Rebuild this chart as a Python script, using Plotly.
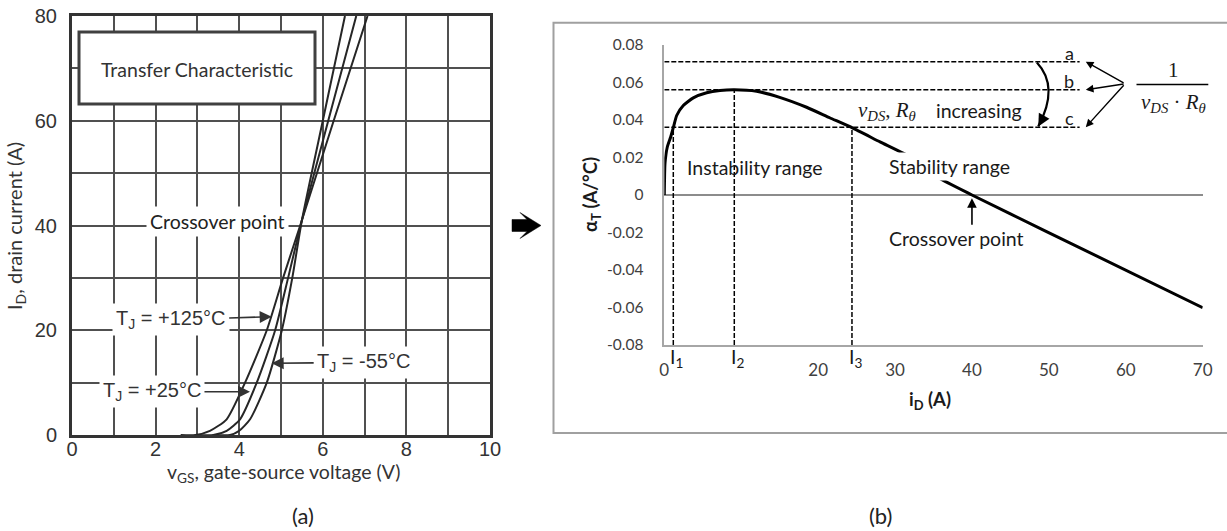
import plotly.graph_objects as go

W, H = 1227, 531

# ---------------- Panel (a): transfer characteristic data ----------------
vgs_125 = [2.6, 2.95, 3.3, 3.7, 4.14, 4.66, 5.05, 5.5, 6.26, 7.07]
id_125 = [0, 0, 0.8, 3, 10, 20, 30, 41, 60, 80]
vgs_25 = [3.0, 3.38, 3.7, 4.02, 4.42, 4.86, 5.17, 5.5, 6.13, 6.8]
id_25 = [0, 0, 0.8, 3, 10, 20, 30, 41, 60, 80]
vgs_m55 = [3.4, 3.78, 4.0, 4.26, 4.66, 5.02, 5.27, 5.5, 6.0, 6.53]
id_m55 = [0, 0, 0.8, 3, 10, 20, 30, 41, 60, 80]

left_xticks = [0, 2, 4, 6, 8, 10]
left_yticks = [0, 20, 40, 60, 80]

# ---------------- Panel (b): alpha_T vs i_D ----------------
iD = [0, 0.09, 0.39, 0.83, 1.17, 1.61, 2.47, 3.77, 5.51, 7.24, 9.1, 12.0, 15.0,
      18.5, 21.5, 24.4, 28.05, 32.2, 35.6, 40.0, 49.7, 70]
alphaT = [0, 0.0168, 0.0256, 0.0309, 0.0359, 0.0424, 0.0477, 0.0518, 0.0545, 0.0557,
          0.0561, 0.0553, 0.0521, 0.0468, 0.0412, 0.0359, 0.0283, 0.0198, 0.0093, 0.0,
          -0.0195, -0.0601]

level_names = ["a", "b", "c"]
level_vals = [0.0711, 0.0561, 0.0362]
level_end = 54.0
I_names = ["I<sub>1</sub>", "I<sub>2</sub>", "I<sub>3</sub>"]
I_vals = [1.17, 9.1, 24.4]
I_tops = [0.0362, 0.0561, 0.0362]

right_xticks = [0, 20, 30, 40, 50, 60, 70]
right_yticks = [0.08, 0.06, 0.04, 0.02, 0, -0.02, -0.04, -0.06, -0.08]
right_yticktext = ["0.08", "0.06", "0.04", "0.02", "0", "-0.02", "-0.04", "-0.06", "-0.08"]


def px(x):
    return x / W


def py(y):
    return 1 - y / H


SANS = "Lato"
ARIAL = "Liberation Sans"
SERIF = "Liberation Serif"
GRID = "#505050"
DARK = "#333333"
TXT = "#1a1a1a"
FS = 19.5

fig = go.Figure()

curve_line = dict(color="#262626", width=2, shape="spline", smoothing=0.6)
for xs, ys in [(vgs_125, id_125), (vgs_25, id_25), (vgs_m55, id_m55)]:
    fig.add_trace(go.Scatter(x=xs, y=ys, mode="lines", line=curve_line,
                             xaxis="x", yaxis="y", hoverinfo="skip", showlegend=False))

# dashed reference lines (panel b)
dash = dict(color="black", width=1.5, dash="5px,2px")
for v in level_vals:
    fig.add_trace(go.Scatter(x=[0, level_end], y=[v, v], mode="lines", line=dash,
                             xaxis="x2", yaxis="y2", hoverinfo="skip", showlegend=False))
for xv, top in zip(I_vals, I_tops):
    fig.add_trace(go.Scatter(x=[xv, xv], y=[-0.08, top], mode="lines", line=dash,
                             xaxis="x2", yaxis="y2", hoverinfo="skip", showlegend=False))

fig.add_trace(go.Scatter(x=iD, y=alphaT, mode="lines",
                         line=dict(color="black", width=3, shape="spline", smoothing=0.5),
                         xaxis="x2", yaxis="y2", hoverinfo="skip", showlegend=False))

ann = []


def ptext(x, y, text, font, **kw):
    d = dict(x=px(x), y=py(y), xref="paper", yref="paper", text=text, showarrow=False,
             xanchor="center", yanchor="middle", font=font)
    d.update(kw)
    ann.append(d)


# ---- panel (a) texts ----
ptext(197, 69, "Transfer Characteristic", dict(family=SANS, size=FS, color=DARK))
ptext(217, 221, "Crossover point", dict(family=SANS, size=FS, color="#222"),
      bgcolor="white", borderpad=3)
tj = [("T<sub>J</sub> = +125°C", 4.777, 22.59, -101, 3),
      ("T<sub>J</sub> = +25°C", 4.258, 8.27, -98, 0),
      ("T<sub>J</sub> = -55°C", 4.777, 13.69, 92, -1)]
for txt, x, y, ax, ay in tj:
    ann.append(dict(x=x, y=y, xref="x", yref="y", ax=ax, ay=ay, text=txt, showarrow=True,
                    arrowhead=2, arrowsize=1.5, arrowwidth=1.6, arrowcolor=DARK,
                    bgcolor="white", borderpad=3,
                    font=dict(family=ARIAL, size=20, color=DARK)))
ptext(15, 226, "I<sub>D</sub>, drain current (A)", dict(family=SANS, size=20, color=DARK),
      textangle=-90)
ptext(283, 473, "v<sub>GS</sub>, gate-source voltage (V)", dict(family=SANS, size=FS, color=DARK))
ptext(303, 515, "(a)", dict(family=SANS, size=22, color="#222"))
ptext(880, 515, "(b)", dict(family=SANS, size=22, color="#222"))

# ---- panel (b) texts ----
ptext(755, 168, "Instability range", dict(family=SANS, size=FS, color=TXT))
ptext(949, 167, "Stability range", dict(family=SANS, size=FS, color=TXT),
      bgcolor="white", borderpad=2)
ptext(956, 238, "Crossover point", dict(family=SANS, size=FS, color=TXT))
ann.append(dict(x=40, y=-0.0017, xref="x2", yref="y2", ax=0, ay=28, text="",
                showarrow=True, arrowhead=2, arrowsize=1.2, arrowwidth=1.6, arrowcolor="black"))
ptext(887, 111, "<i>v</i><sub><i>DS</i></sub>, <i>R</i><sub><i>θ</i></sub>",
      dict(family=SERIF, size=21, color=TXT))
ptext(979, 111, "increasing", dict(family=SANS, size=FS, color=TXT))
for name, v in zip(level_names, level_vals):
    ann.append(dict(x=level_end, y=v, xref="x2", yref="y2", xanchor="right", yanchor="bottom",
                    xshift=-4, yshift=-4, text=name, showarrow=False,
                    font=dict(family=SANS, size=18, color=TXT)))
    ann.append(dict(x=54.8, y=v, xref="x2", yref="y2", ax=59.91, ay=0.0593,
                    axref="x2", ayref="y2", text="", showarrow=True, arrowhead=2,
                    arrowsize=1.1, arrowwidth=1.4, arrowcolor="black"))
for name, xv in zip(I_names, I_vals):
    ann.append(dict(x=xv, y=-0.08, xref="x2", yref="y2", xanchor="left", yanchor="top",
                    xshift=-5, yshift=2, text=name, showarrow=False,
                    font=dict(family=SANS, size=FS, color=TXT)))
ptext(1173, 70, "1", dict(family=SERIF, size=21, color=TXT))
ptext(1173, 103, "<i>v</i><sub><i>DS</i></sub> · <i>R</i><sub><i>θ</i></sub>",
      dict(family=SERIF, size=21, color=TXT))
ann.append(dict(x=48.62, y=0.0366, xref="x2", yref="y2", ax=5, ay=-9, text="",
                showarrow=True, arrowhead=2, arrowsize=1.1, arrowwidth=2.2, arrowcolor="black"))
ptext(591, 195, "<b>α<sub>T</sub> (A/°C)</b>", dict(family=SANS, size=18.5, color=TXT),
      textangle=-90)
ptext(930, 400, "<b>i<sub>D</sub> (A)</b>", dict(family=SANS, size=18.5, color=TXT))

shapes = []
# Transfer characteristic box
shapes.append(dict(type="rect", xref="paper", yref="paper", x0=px(79), x1=px(315),
                   y0=py(104), y1=py(32), line=dict(color="#404040", width=3),
                   fillcolor="white", layer="above"))
# panel (b) frame
shapes.append(dict(type="rect", xref="paper", yref="paper", x0=px(553.5), x1=px(1240),
                   y0=py(433), y1=py(22.7), line=dict(color="#a0a0a0", width=2),
                   fillcolor="rgba(0,0,0,0)", layer="below"))
# fraction bar
shapes.append(dict(type="line", xref="paper", yref="paper", x0=px(1136.5), x1=px(1208.3),
                   y0=py(84.5), y1=py(84.5), line=dict(color="black", width=1.5)))
# curved arrow
shapes.append(dict(type="path", xref="x2", yref="y2",
                   path="M 48.44,0.0707 Q 51.39,0.0578 48.62,0.0366",
                   line=dict(color="black", width=2.2)))
# big right arrow between panels
pts = [(512, 219.5), (527, 219.5), (520, 212.5), (541, 225.5), (520, 238.5), (527, 231.5),
       (512, 231.5)]
path = "M " + " L ".join(f"{px(a):.5f},{py(b):.5f}" for a, b in pts) + " Z"
shapes.append(dict(type="path", xref="paper", yref="paper", path=path,
                   fillcolor="black", line=dict(color="black", width=0.5)))

xaxis_left = dict(domain=[px(72), px(490)], range=[0, 10], anchor="y", automargin=False,
                  tickvals=left_xticks, showgrid=True, gridcolor=GRID, gridwidth=2,
                  minor=dict(dtick=1, tick0=0, showgrid=True, gridcolor=GRID, gridwidth=2),
                  showline=True, mirror=True, linecolor=DARK, linewidth=3, zeroline=False,
                  ticks="", tickfont=dict(family=ARIAL, size=20, color=DARK))

fig.update_layout(
    template="none",
    width=W, height=H, margin=dict(l=0, r=0, t=0, b=0, pad=0, autoexpand=False),
    paper_bgcolor="white", plot_bgcolor="white", showlegend=False,
    xaxis=xaxis_left,
    yaxis=dict(domain=[py(435), py(16)], range=[0, 80], anchor="x", automargin=False,
               tickvals=left_yticks, showgrid=True, gridcolor=GRID, gridwidth=2,
               minor=dict(dtick=10, tick0=0, showgrid=True, gridcolor=GRID, gridwidth=2),
               showline=True, mirror=True, linecolor=DARK, linewidth=3, zeroline=False,
               ticks="", ticklabelstandoff=8,
               tickfont=dict(family=ARIAL, size=20, color=DARK)),
    xaxis2=dict(domain=[px(664.3), px(1202.7)], range=[0, 70], anchor="y2", automargin=False,
                tickvals=right_xticks, showgrid=False, zeroline=False,
                showline=True, linecolor="#a6a6a6", linewidth=1.5, ticks="",
                ticklabelstandoff=9, tickfont=dict(family=SANS, size=17, color="#404040")),
    yaxis2=dict(domain=[py(345), py(45)], range=[-0.08, 0.08], anchor="x2", automargin=False,
                tickvals=right_yticks, ticktext=right_yticktext, showgrid=False,
                zeroline=True, zerolinecolor="#8c8c8c", zerolinewidth=2,
                showline=True, linecolor="#a6a6a6", linewidth=1.5, ticks="",
                ticklabelstandoff=16, tickfont=dict(family=SANS, size=15.5, color="#404040")),
    annotations=ann, shapes=shapes,
)
try:
    fig.update_xaxes(ticklabelstandoff=-6, selector=dict(anchor="y"))
except Exception:
    pass

fig.write_html("out.html", config={"displayModeBar": False},
               post_script="document.body.style.margin='0';document.body.style.overflow='hidden';")
